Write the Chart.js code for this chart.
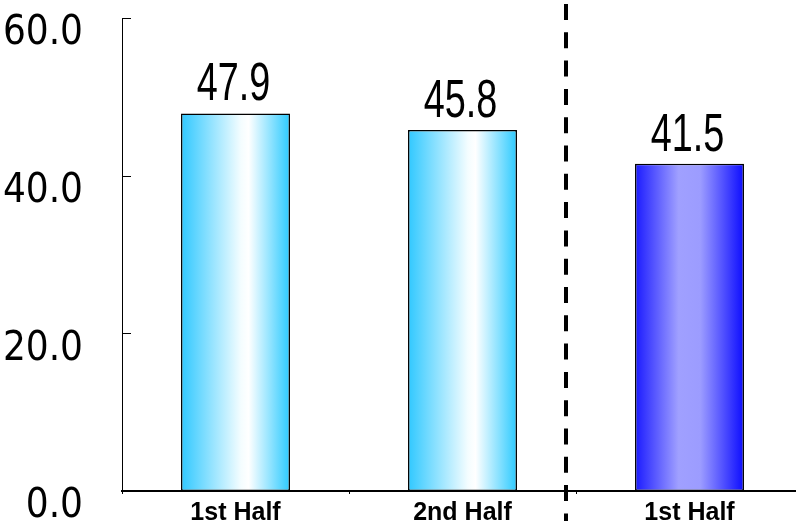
<!DOCTYPE html>
<html lang="en">
<head>
    <meta charset="UTF-8">
    <title>Half-year bars</title>
    <script src="https://cdn.jsdelivr.net/npm/chart.js"></script>
    <style>
        html, body {
            margin: 0;
            padding: 0;
            overflow: hidden;
            background: #ffffff;
        }
        #wrap {
            width: 810px;
            height: 521px;
        }
    </style>
</head>
<body>
    <div id="wrap">
        <canvas id="chart" width="810" height="521"></canvas>
    </div>

    <script>
        // Data
        const categories = ['1st Half', '2nd Half', '1st Half'];
        const values = [47.9, 45.8, 41.5];
        const yTicks = [0, 20, 40, 60];

        const BAR_PCT = 0.48;

        // Horizontal gradients: cyan/white for the first two bars, blue for the last
        function barGradient(context) {
            const chart = context.chart;
            const xs = chart.scales.x;
            if (!chart.chartArea || !xs) {
                return context.dataIndex < 2 ? '#33c8ff' : '#1a1aff';
            }
            const center = xs.getPixelForValue(context.dataIndex);
            const half = xs.width / categories.length * BAR_PCT / 2;
            const g = chart.ctx.createLinearGradient(center - half, 0, center + half, 0);
            if (context.dataIndex < 2) {
                g.addColorStop(0, '#30c8ff');
                g.addColorStop(0.55, '#f4fdff');
                g.addColorStop(0.62, '#ffffff');
                g.addColorStop(1, '#2ccaff');
            } else {
                g.addColorStop(0, '#1a1aff');
                g.addColorStop(0.4, '#a0a0ff');
                g.addColorStop(0.6, '#9c9cff');
                g.addColorStop(1, '#0c0cff');
            }
            return g;
        }

        // Plugin: value labels, inward y ticks and the dashed divider
        const decorations = {
            id: 'decorations',
            afterDatasetsDraw(chart) {
                const ctx = chart.ctx;
                const meta = chart.getDatasetMeta(0);
                ctx.save();
                ctx.fillStyle = '#000000';
                ctx.font = '54px "Liberation Sans", Arial, sans-serif';
                ctx.textAlign = 'center';
                ctx.textBaseline = 'alphabetic';
                meta.data.forEach((bar, i) => {
                    ctx.save();
                    ctx.translate(bar.x - 2, bar.y - 13);
                    ctx.scale(0.70, 1);
                    ctx.fillText(values[i].toFixed(1), 0, 0);
                    ctx.restore();
                });
                ctx.restore();
            },
            afterDraw(chart, args, opts) {
                const ctx = chart.ctx;
                const x = chart.scales.x;
                const y = chart.scales.y;
                ctx.save();

                // tick marks pointing into the plot
                ctx.strokeStyle = '#000000';
                ctx.lineWidth = 1;
                yTicks.forEach(v => {
                    const py = Math.round(y.getPixelForValue(v)) + 0.5;
                    ctx.beginPath();
                    ctx.moveTo(x.left, py);
                    ctx.lineTo(x.left + 9, py);
                    ctx.stroke();
                });

                // dashed separator between the two periods
                const dx = Math.round(x.getPixelForValue(opts.dividerAt));
                ctx.lineWidth = 4;
                ctx.setLineDash([16, 12.3]);
                ctx.beginPath();
                ctx.moveTo(dx, 4);
                ctx.lineTo(dx, chart.height);
                ctx.stroke();
                ctx.restore();
            }
        };

        const ctx = document.getElementById('chart').getContext('2d');
        new Chart(ctx, {
            type: 'bar',
            data: {
                labels: categories,
                datasets: [{
                    data: values,
                    backgroundColor: barGradient,
                    borderColor: '#000000',
                    borderWidth: 1.5,
                    borderSkipped: false,
                    barPercentage: BAR_PCT,
                    categoryPercentage: 1
                }]
            },
            options: {
                responsive: false,
                animation: false,
                layout: {
                    padding: { top: 18, right: 7, bottom: 0, left: 0 }
                },
                plugins: {
                    legend: { display: false },
                    tooltip: { enabled: false },
                    decorations: { dividerAt: 1.456 }
                },
                scales: {
                    x: {
                        offset: true,
                        grid: {
                            offset: true,
                            drawOnChartArea: false,
                            drawTicks: true,
                            tickLength: 3,
                            color: '#000000',
                            lineWidth: 1
                        },
                        border: { display: true, color: '#000000', width: 2 },
                        ticks: {
                            color: '#000000',
                            padding: 4,
                            maxRotation: 0,
                            autoSkip: false,
                            font: { family: '"Liberation Sans", Arial, sans-serif', size: 25, weight: 'bold' }
                        },
                        afterFit(scale) {
                            scale.height = 30;
                            scale.paddingLeft = 0;
                            scale.paddingRight = 0;
                        }
                    },
                    y: {
                        min: 0,
                        max: 60,
                        afterBuildTicks(scale) {
                            scale.ticks = yTicks.map(v => ({ value: v }));
                        },
                        grid: { display: false, drawTicks: false },
                        border: { display: true, color: '#000000', width: 1 },
                        ticks: {
                            color: '#000000',
                            padding: 39,
                            labelOffset: 16,
                            font: { family: '"DejaVu Sans Condensed", "DejaVu Sans", sans-serif', size: 40 },
                            callback: v => Number(v).toFixed(1)
                        },
                        afterFit(scale) {
                            scale.width = 122;
                            scale.paddingTop = 0;
                            scale.paddingBottom = 0;
                        }
                    }
                }
            },
            plugins: [decorations]
        });
    </script>
</body>
</html>
